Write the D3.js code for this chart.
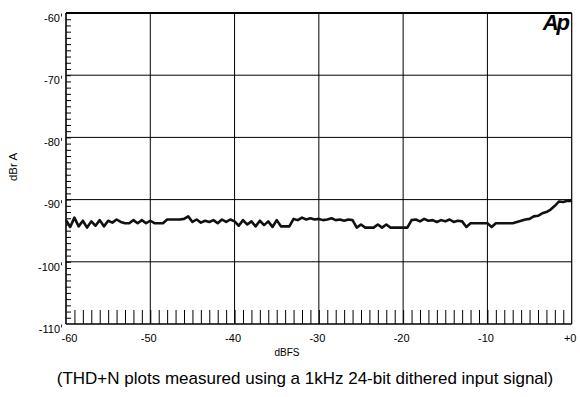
<!DOCTYPE html>
<html><head><meta charset="utf-8">
<script src="https://cdn.jsdelivr.net/npm/d3@7"></script>
<style>
html,body{margin:0;padding:0;background:#fff;}
svg{display:block;font-family:"Liberation Sans",Arial,Helvetica,sans-serif;}
</style></head>
<body>
<svg id="c" width="580" height="397"></svg>
<script>
// ---- data ----
const xTicks = [-60,-50,-40,-30,-20,-10,0];
const xTickLabels = ["-60","-50","-40","-30","-20","-10","+0"];
const yTicks = [-60,-70,-80,-90,-100,-110];
const yTickLabels = ["-60","-70","-80","-90","-100","-110"];
const xLevels = d3.range(-60, 0.001, 0.5);
const thdN = [
 -93.3,-94.4,-92.9,-94.3,-93.4,-94.5,-93.5,-94.2,-93.3,-94.3,
 -93.4,-93.7,-93.2,-93.6,-93.8,-93.8,-93.3,-93.8,-93.3,-93.8,
 -93.4,-93.8,-93.8,-93.8,-93.2,-93.2,-93.2,-93.2,-93.1,-92.7,
 -93.6,-93.2,-93.7,-93.4,-93.6,-93.3,-93.8,-93.2,-93.6,-93.2,
 -93.5,-94.2,-93.3,-94.0,-93.5,-94.3,-93.4,-94.1,-93.5,-94.4,
 -93.3,-94.3,-94.3,-94.3,-93.1,-93.3,-92.9,-93.2,-93.0,-93.2,
 -93.1,-93.3,-93.2,-93.0,-93.3,-93.2,-93.4,-93.2,-93.3,-94.5,
 -94.0,-94.5,-94.5,-94.5,-94.0,-94.5,-94.0,-94.5,-94.5,-94.5,
 -94.5,-94.5,-93.3,-93.2,-93.5,-93.1,-93.4,-93.3,-93.6,-93.3,
 -93.5,-93.2,-93.6,-93.4,-93.5,-94.4,-93.8,-93.8,-93.8,-93.8,
 -93.8,-94.4,-93.8,-93.8,-93.8,-93.8,-93.8,-93.6,-93.4,-93.2,
 -93.1,-92.7,-92.6,-92.2,-92.0,-91.6,-91.0,-90.3,-90.4,-90.2,
 -90.2
];
const minorX = d3.range(-59, 0, 1);
const minorY = d3.range(-109, -60, 1);

// ---- layout ----
const L = 66, R = 571.7, T = 13, B = 324;
const svg = d3.select("#c");
const x = d3.scaleLinear().domain([-60, 0]).range([L, R]);
const y = d3.scaleLinear().domain([-110, -60]).range([B, T]);

// grid
svg.append("g").selectAll("line").data(xTicks.slice(1, -1)).join("line")
  .attr("x1", d => x(d)).attr("x2", d => x(d)).attr("y1", T).attr("y2", B)
  .attr("stroke", "#000").attr("stroke-width", 1);
svg.append("g").selectAll("line").data(yTicks.slice(1, -1)).join("line")
  .attr("y1", d => y(d)).attr("y2", d => y(d)).attr("x1", L).attr("x2", R)
  .attr("stroke", "#000").attr("stroke-width", 1);

// minor ticks (inside)
const gxm = svg.append("g").attr("transform", `translate(0,${B})`)
  .call(d3.axisBottom(x).tickValues(minorX).tickSize(-14).tickFormat(""));
gxm.select(".domain").remove();
gxm.selectAll("line").attr("stroke", "#000").attr("stroke-width", 1);
const gym = svg.append("g").attr("transform", `translate(${L},0)`)
  .call(d3.axisRight(y).tickValues(minorY).tickSize(5).tickFormat(""));
gym.select(".domain").remove();
gym.selectAll("line").attr("stroke", "#000").attr("stroke-width", 1);

// frame
svg.append("line").attr("x1", L).attr("x2", R).attr("y1", T).attr("y2", T).attr("stroke", "#000").attr("stroke-width", 2.2);
svg.append("line").attr("x1", L).attr("x2", R).attr("y1", B).attr("y2", B).attr("stroke", "#000").attr("stroke-width", 1.6);
svg.append("line").attr("x1", L).attr("x2", L).attr("y1", T).attr("y2", B).attr("stroke", "#000").attr("stroke-width", 1.6);
svg.append("line").attr("x1", R).attr("x2", R).attr("y1", T).attr("y2", B).attr("stroke", "#000").attr("stroke-width", 1.2);

// x tick labels
const gx = svg.append("g").attr("transform", `translate(0,${B})`)
  .call(d3.axisBottom(x).tickValues(xTicks).tickSize(0).tickPadding(10)
    .tickFormat((d, i) => xTickLabels[i]));
gx.select(".domain").remove();
gx.selectAll("text").attr("font-size", 11).attr("fill", "#000")
  .attr("font-family", "Liberation Sans, Arial, sans-serif")
  .attr("dx", (d, i) => i === 0 ? 3 : -2);

// y tick labels
const gy = svg.append("g").attr("transform", `translate(${L},0)`)
  .call(d3.axisLeft(y).tickValues(yTicks).tickSize(0).tickPadding(6)
    .tickFormat((d, i) => yTickLabels[i]));
gy.select(".domain").remove();
gy.selectAll("text").attr("font-size", 11).attr("fill", "#000")
  .attr("font-family", "Liberation Sans, Arial, sans-serif")
  .attr("dy", "0.75em");
// small marks next to y labels
svg.append("g").selectAll("line").data(yTicks).join("line")
  .attr("x1", L - 4.5).attr("x2", L - 4.5).attr("y1", d => y(d) + 0.5).attr("y2", d => y(d) + 3.5)
  .attr("stroke", "#000").attr("stroke-width", 0.8);

// axis titles
svg.append("text").attr("x", 287).attr("y", 356).attr("text-anchor", "middle")
  .attr("font-size", 10).text("dBFS");
svg.append("text").attr("transform", `translate(17,${167}) rotate(-90)`).attr("text-anchor", "middle")
  .attr("font-size", 11.5).text("dBr A");
svg.append("text").attr("x", 305).attr("y", 384).attr("text-anchor", "middle")
  .attr("font-size", 17).text("(THD+N plots measured using a 1kHz 24-bit dithered input signal)");

// Ap logo
svg.append("text").attr("x", 568).attr("y", 30).attr("text-anchor", "end")
  .attr("font-size", 22).attr("font-weight", "bold").attr("font-style", "italic")
  .attr("letter-spacing", -2).text("Ap");

// data line
const line = d3.line().x((d, i) => x(xLevels[i])).y(d => y(d));
svg.append("path").datum(thdN).attr("d", line)
  .attr("fill", "none").attr("stroke", "#111").attr("stroke-width", 2.6)
  .attr("stroke-linejoin", "round");
</script>
</body></html>
